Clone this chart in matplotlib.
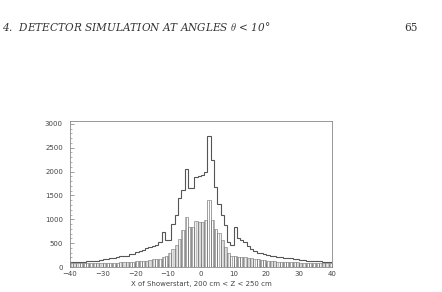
import matplotlib as mpl
mpl.use('Agg')
import matplotlib.pyplot as plt
import numpy as np

# bin edges of the histograms (1 cm bins)
edges = np.arange(-40, 41, 1)

# all showers, X of showerstart
all_counts = [100, 100, 100, 105, 115, 120, 120, 125, 130, 150,
              160, 165, 185, 190, 200, 225, 235, 240, 270, 280,
              310, 330, 350, 390, 410, 440, 470, 520, 740, 560,
              570, 910, 1100, 1450, 1620, 2060, 1650, 1650, 1880, 1900,
              1920, 1990, 2740, 2250, 1680, 1330, 1080, 870, 530, 460,
              840, 600, 560, 520, 450, 380, 340, 300, 285, 270,
              245, 235, 225, 210, 200, 195, 185, 180, 170, 160,
              150, 145, 135, 130, 130, 125, 120, 115, 115, 110]

# showers starting at 200 cm < Z < 250 cm (hatched)
sel_counts = [75, 75, 75, 78, 78, 80, 80, 80, 82, 85,
              85, 88, 90, 90, 92, 95, 100, 105, 105, 110,
              120, 125, 130, 135, 150, 160, 165, 175, 200, 240,
              300, 380, 470, 580, 770, 1040, 830, 830, 960, 950,
              940, 980, 1400, 980, 800, 720, 560, 420, 300, 240,
              240, 220, 210, 200, 190, 180, 170, 160, 150, 140,
              130, 125, 120, 115, 112, 110, 105, 100, 100, 95,
              90, 88, 85, 85, 82, 80, 80, 78, 78, 75]

xticks = [-40, -30, -20, -10, 0, 10, 20, 30, 40]
yticks = [0, 500, 1000, 1500, 2000, 2500, 3000]

plt.rcParams['hatch.linewidth'] = 0.45
plt.rcParams['hatch.color'] = '#7a7a7a'
plt.rcParams['mathtext.fontset'] = 'cm'

fig = plt.figure(figsize=(4.42, 2.92), dpi=100)
ax = fig.add_axes([0.158, 0.0856, 0.593, 0.5])

ax.bar(edges[:-1], sel_counts, width=1, align='edge', fill=False,
       hatch='||||||||', edgecolor='#777777', linewidth=0.4)
ax.stairs(all_counts, edges, color='#555555', linewidth=0.8)

ax.set_xlim(-40, 40)
ax.set_ylim(0, 3060)
ax.set_xticks(xticks)
ax.set_yticks(yticks)
ax.set_xticks(np.arange(-40, 41, 2), minor=True)
ax.set_yticks(np.arange(0, 3001, 100), minor=True)
ax.tick_params(direction='in', length=3, width=0.5, color='#777777',
               labelsize=5, labelcolor='#444444')
ax.tick_params(axis='y', pad=5)
ax.tick_params(axis='x', pad=3)
ax.tick_params(which='minor', direction='in', length=1.5, width=0.4,
               color='#777777')
for s in ax.spines.values():
    s.set_color('#888888')
    s.set_linewidth(0.6)

ax.set_xlabel('X of Showerstart, 200 cm < Z < 250 cm', fontsize=5,
              color='#444444', labelpad=3)

fig.text(0.005, 0.895, r'4.  DETECTOR SIMULATION AT ANGLES $\theta$ < 10°',
         fontsize=7.6, family='DejaVu Serif', style='italic', color='#333333')
fig.text(0.915, 0.895, '65', fontsize=7.6, family='DejaVu Serif',
         color='#333333')

fig.savefig('out.png', dpi=100, facecolor='white')
